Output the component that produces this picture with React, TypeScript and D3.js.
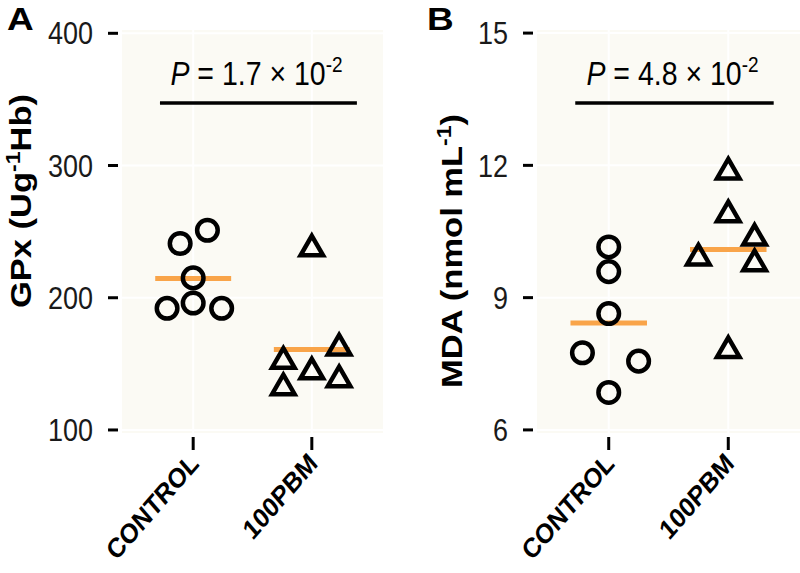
import React from "react";
import * as d3 from "d3";

// ---------- data ----------
const categories = ["CONTROL", "100PBM"];

const gpxTicks = [100, 200, 300, 400];
const gpxControl = [251, 241, 215, 192, 196, 192];
const gpxControlJitter = [0.12, -0.11, 0, -0.22, 0, 0.24];
const gpxTreated = [237, 162, 152, 144, 138, 132];
const gpxTreatedJitter = [0, 0.23, -0.24, 0, 0.23, -0.24];

const mdaTicks = [6, 9, 12, 15];
const mdaControl = [10.15, 9.59, 8.64, 7.75, 7.56, 6.85];
const mdaControlJitter = [0, 0, 0, -0.22, 0.25, 0];
const mdaTreated = [11.85, 10.88, 10.35, 9.9, 9.77, 7.8];
const mdaTreatedJitter = [0, 0, 0.22, -0.25, 0.22, 0];

const pMantissa = ["1.7", "4.8"];
const pExponent = "-2";

// ---------- styles ----------
const BG = "#FBFAF4";
const ORANGE = "#F9A449";
const FONT = "'Liberation Sans', Arial, sans-serif";
const TOP = 30;
const BOTTOM = 433;
const SY = 1.15; // vertical text stretch seen in the reference

function Triangle({ x, y, r }: { x: number; y: number; r: number }) {
  const h = (r * Math.sqrt(3)) / 2;
  const d = `M${x},${y - r}L${x + h},${y + r / 2}L${x - h},${y + r / 2}Z`;
  return <path d={d} fill="none" stroke="#000" strokeWidth={4.5} strokeLinejoin="miter" />;
}

function Panel(props: {
  left: number;
  right: number;
  domain: [number, number];
  ticks: number[];
  control: number[];
  controlJitter: number[];
  treated: number[];
  treatedJitter: number[];
  letter: string;
  letterX: number;
  titleMain: string;
  titleSup: string;
  titleTail: string;
  titleX: number;
  titleY: number;
  p: string;
}) {
  const { left, right, domain, ticks } = props;
  const x = d3.scaleLinear().domain([0.4, 2.6]).range([left, right]);
  const y = d3.scaleLinear().domain(domain).range([BOTTOM, TOP]);
  const groups = [
    { vals: props.control, jit: props.controlJitter, shape: "circle" },
    { vals: props.treated, jit: props.treatedJitter, shape: "triangle" },
  ];
  const bracketY = 103;
  return (
    <g>
      <rect x={left} y={TOP} width={right - left} height={BOTTOM - TOP} fill={BG} />
      {ticks.map((t) => (
        <line key={"gy" + t} x1={left} x2={right} y1={y(t)} y2={y(t)} stroke="#fff" strokeWidth={2} />
      ))}
      {categories.map((c, i) => (
        <line key={"gx" + c} x1={x(i + 1)} x2={x(i + 1)} y1={TOP} y2={BOTTOM} stroke="#fff" strokeWidth={2} />
      ))}
      {/* y axis ticks and labels */}
      {ticks.map((t) => (
        <g key={"ty" + t}>
          <line x1={left - 14} x2={left - 4} y1={y(t)} y2={y(t)} stroke="#000" strokeWidth={3} />
          <text
            transform={`translate(${left - 29},${y(t)}) scale(1,${SY})`}
            dy="0.36em"
            textAnchor="end"
            fontFamily={FONT}
            fontSize={27}
            fill="#1a1a1a"
          >
            {t}
          </text>
        </g>
      ))}
      {/* x axis ticks and labels */}
      {categories.map((c, i) => (
        <g key={"tx" + c}>
          <line x1={x(i + 1)} x2={x(i + 1)} y1={437} y2={450} stroke="#000" strokeWidth={3} />
          <text
            transform={`translate(${x(i + 1) + 7},${465}) scale(1,${SY}) rotate(-45)`}
            textAnchor="end"
            fontFamily={FONT}
            fontWeight="bold"
            fontSize={24}
            fill="#000"
          >
            {c}
          </text>
        </g>
      ))}
      {/* mean lines */}
      {groups.map((g, i) => {
        const m = d3.mean(g.vals) as number;
        return (
          <line
            key={"m" + i}
            x1={x(i + 1 - 0.32)}
            x2={x(i + 1 + 0.32)}
            y1={y(m)}
            y2={y(m)}
            stroke={ORANGE}
            strokeWidth={5}
          />
        );
      })}
      {/* points */}
      {groups.map((g, i) =>
        g.vals.map((v, j) =>
          g.shape === "circle" ? (
            <circle
              key={`p${i}-${j}`}
              cx={x(i + 1 + g.jit[j])}
              cy={y(v)}
              r={10.3}
              fill="none"
              stroke="#000"
              strokeWidth={4.5}
            />
          ) : (
            <Triangle key={`p${i}-${j}`} x={x(i + 1 + g.jit[j])} y={y(v)} r={13} />
          )
        )
      )}
      {/* significance bracket */}
      <line x1={x(0.72)} x2={x(2.38)} y1={bracketY} y2={bracketY} stroke="#000" strokeWidth={3.5} />
      <text
        transform={`translate(${(x(1) + x(2)) / 2 + 4},${85}) scale(1,${SY})`}
        textAnchor="middle"
        fontFamily={FONT}
        fontSize={28.5}
        fill="#000"
      >
        <tspan fontStyle="italic">P</tspan>
        <tspan> = {props.p} × 10</tspan>
        <tspan dy={-11} fontSize={19}>
          {pExponent}
        </tspan>
      </text>
      {/* y title */}
      <text
        transform={`translate(${props.titleX},${props.titleY}) scale(1,${SY}) rotate(-90)`}
        textAnchor="middle"
        fontFamily={FONT}
        fontWeight="bold"
        fontSize={30}
        fill="#000"
      >
        {props.titleMain}
        <tspan dy={-11} fontSize={20}>
          {props.titleSup}
        </tspan>
        <tspan dy={11}>{props.titleTail}</tspan>
      </text>
      {/* panel letter */}
      <text
        transform={`translate(${props.letterX},${30}) scale(1,0.85)`}
        fontFamily={FONT}
        fontWeight="bold"
        fontSize={37}
        fill="#000"
      >
        {props.letter}
      </text>
    </g>
  );
}

export default function App() {
  return (
    <svg
      width={800}
      height={573}
      style={{ position: "absolute", left: 0, top: 0, background: "#fff" }}
    >
      <rect width={800} height={573} fill="#fff" />
      <Panel
        left={122}
        right={383}
        domain={[97.7, 402.5]}
        ticks={gpxTicks}
        control={gpxControl}
        controlJitter={gpxControlJitter}
        treated={gpxTreated}
        treatedJitter={gpxTreatedJitter}
        letter="A"
        letterX={7}
        titleMain="GPx (Ug"
        titleSup="-1"
        titleTail="Hb)"
        titleX={31}
        titleY={201}
        p={pMantissa[0]}
      />
      <Panel
        left={537}
        right={800}
        domain={[5.93, 15.07]}
        ticks={mdaTicks}
        control={mdaControl}
        controlJitter={mdaControlJitter}
        treated={mdaTreated}
        treatedJitter={mdaTreatedJitter}
        letter="B"
        letterX={427}
        titleMain="MDA (nmol mL"
        titleSup="-1"
        titleTail=")"
        titleX={462}
        titleY={251}
        p={pMantissa[1]}
      />
    </svg>
  );
}
